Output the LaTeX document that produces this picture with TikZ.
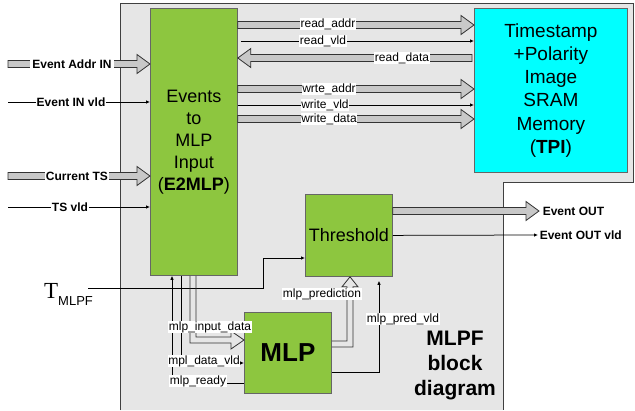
\documentclass[tikz,border=0pt]{standalone}
\usepackage{fontspec}
\setmainfont{Liberation Sans}
\newfontfamily\seriffont{Liberation Serif}
\usetikzlibrary{positioning, calc, arrows.meta}
\definecolor{blockgreen}{HTML}{8DC63F}
\definecolor{memcyan}{HTML}{00FFFF}
\definecolor{areagray}{HTML}{E6E6E6}
\definecolor{busgray}{HTML}{C8C8C8}
\tikzset{
  block/.style={draw=black!60, line width=0.8pt, fill=blockgreen, align=center, anchor=north west,
    inner sep=0pt, font=\fontsize{18}{22}\selectfont},
  sig/.style={fill=white, inner sep=0.6pt, font=\fontsize{12}{12}\selectfont},
  port/.style={fill=white, inner sep=0.6pt, font=\fontsize{12}{12}\selectfont\bfseries},
  wire/.style={draw, line width=0.75pt, -{Latex[length=4pt,width=3.5pt]}},
  bus/.style={draw=black!80, line width=0.8pt, fill=busgray},
}
\newcommand{\busarrow}[2]{%
  \path (#1) coordinate (ba) (#2) coordinate (bb) ($(bb)!13pt!(ba)$) coordinate (bh);
  \draw[bus] ($(ba)!3.5pt!90:(bb)$) -- ($(bh)!3.5pt!90:(bb)$) -- ($(bh)!9.5pt!90:(bb)$) -- (bb)
    -- ($(bh)!9.5pt!-90:(bb)$) -- ($(bh)!3.5pt!-90:(bb)$) -- ($(ba)!3.5pt!-90:(bb)$) -- cycle;}

\begin{document}
\begin{tikzpicture}[x=1pt, y=-1pt]
  \useasboundingbox (0,0) rectangle (635,410);
  \draw[fill=areagray, draw=black!75, line width=0.8pt]
    (120,410) -- (120,3) -- (633,3) -- (633,182) -- (503,182) -- (503,410);

  \node[block, minimum width=87pt, minimum height=267pt] (e2mlp) at (150,8)
    {Events\\to\\MLP\\Input\\(\textbf{E2MLP})};
  \node[block, fill=memcyan, minimum width=153pt, minimum height=164pt,
    font=\fontsize{19}{23.3}\selectfont] (tpi) at (474,8)
    {Timestamp\\+Polarity\\Image\\SRAM\\Memory\\(\textbf{TPI})};
  \node[block, minimum width=87pt, minimum height=82pt] (thr) at (305,194) {Threshold};
  \node[block, minimum width=87pt, minimum height=81pt,
    font=\fontsize{26}{26}\selectfont\bfseries] (mlp) at (244,312) {MLP};
  \node[font=\fontsize{21}{25}\selectfont\bfseries, align=center] (title) at (455,365)
    {MLPF\\block\\diagram};

  \busarrow{$(e2mlp.north east)+(0,17)$}{$(tpi.north west)+(0,17)$}
  \draw[wire] ($(e2mlp.north east)+(3,33)$) -- ($(tpi.north west)+(0,33)$);
  \busarrow{$(tpi.north west)+(-2,50)$}{$(e2mlp.north east)+(0,50)$}
  \busarrow{$(e2mlp.north east)+(0,81)$}{$(tpi.north west)+(0,81)$}
  \draw[wire] ($(e2mlp.north east)+(0,97)$) -- ($(tpi.north west)+(0,97)$);
  \busarrow{$(e2mlp.north east)+(0,111)$}{$(tpi.north west)+(0,111)$}
  \node[sig] (raddr) at (328,24) {read\_addr};
  \node[sig] (rvld) at (323,41) {read\_vld};
  \node[sig] (rdata) at (402,58) {read\_data};
  \node[sig] (waddr) at (329,89) {wrte\_addr};
  \node[sig] (wvld) at (325,105) {write\_vld};
  \node[sig] (wdata) at (329,119) {write\_data};

  \coordinate (addrin) at (8,64);
  \coordinate (evvld) at (8,102);
  \coordinate (tsin) at (8,176);
  \coordinate (tsvld) at (8,207);
  \busarrow{addrin}{$(e2mlp.north west)+(0,56)$}
  \draw[wire] (evvld) -- ($(e2mlp.north west)+(0,94)$);
  \busarrow{tsin}{$(e2mlp.north west)+(0,168)$}
  \draw[wire] (tsvld) -- ($(e2mlp.north west)+(0,199)$);
  \node[port, inner sep=2pt] (addrlbl) at (72,64) {Event Addr IN};
  \node[port] (evvldlbl) at (71,102) {Event IN vld};
  \node[port] (tslbl) at (77,176) {Current TS};
  \node[port] (tsvldlbl) at (70,207) {TS vld};

  \coordinate (evout) at (539,211);
  \coordinate (evoutvld) at (538,235);
  \busarrow{$(thr.north east)+(0,17)$}{evout}
  \draw[wire] (thr.east) -- (evoutvld);
  \node[port, fill=none, anchor=west] (evoutlbl) at (542,211) {Event OUT};
  \node[port, fill=none, anchor=west] (evoutvldlbl) at (539,235) {Event OUT vld};

  \node[anchor=base west, inner sep=0pt] (tmlpf) at (44,298)
    {{\seriffont\fontsize{23}{23}\selectfont T}\raisebox{-7pt}{\fontsize{13}{13}\selectfont MLPF}};
  \coordinate (tin) at (88,288);
  \draw[wire] (tin) -- ++(175,0) |- ($(thr.north west)+(0,64)$);

  \draw[wire] ($(mlp.north west)+(0,71)$) -| ($(e2mlp.south west)+(22,0)$);
  \draw[wire] ($(e2mlp.south west)+(31,0)$) |- ($(mlp.north west)+(0,51)$);
  \coordinate (din) at ($(e2mlp.south west)+(43,0)$);
  \coordinate (dout) at ($(mlp.north west)+(0,28)$);
  \draw[bus, fill=none] ($(din)+(-3,0)$) -- ($(din |- dout)+(-3,3)$) -- ($(dout)+(-13,3)$)
    -- ($(dout)+(-13,9)$) -- (dout) -- ($(dout)+(-13,-9)$) -- ($(dout)+(-13,-3)$)
    -- ($(din |- dout)+(3,-3)$) -- ($(din)+(3,0)$);
  \coordinate (pout) at ($(mlp.north east)+(0,32)$);
  \coordinate (pin) at ($(thr.south west)+(45,0)$);
  \draw[bus, fill=none] ($(pout)+(0,-3)$) -- ($(pin |- pout)+(-3,-3)$) -- ($(pin)+(-3,10)$)
    -- ($(pin)+(-8,10)$) -- (pin) -- ($(pin)+(8,10)$) -- ($(pin)+(3,10)$)
    -- ($(pin |- pout)+(3,3)$) -- ($(pout)+(0,3)$);
  \draw[wire] ($(mlp.north east)+(0,60)$) -| ($(thr.south west)+(74,4)$);
  \node[sig] (indata) at (210,327) {mlp\_input\_data};
  \node[sig] (datavld) at (204,361) {mpl\_data\_vld};
  \node[sig] (ready) at (198,381) {mlp\_ready};
  \node[sig] (pred) at (322,294) {mlp\_prediction};
  \node[sig] (predvld) at (403,319) {mlp\_pred\_vld};
\end{tikzpicture}
\end{document}
